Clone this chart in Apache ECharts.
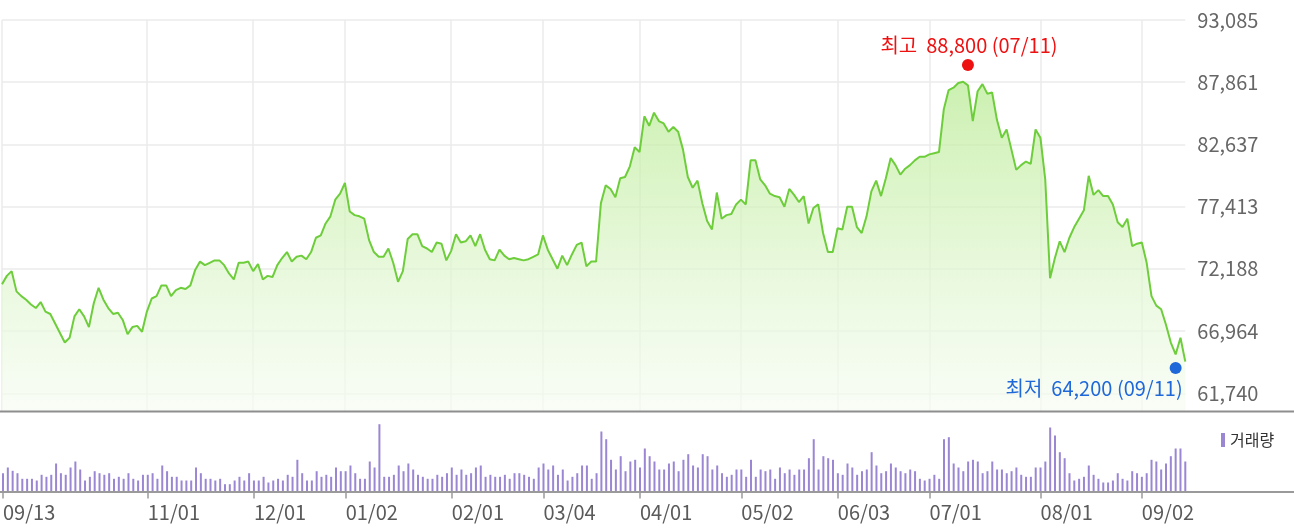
<!DOCTYPE html>
<html>
<head>
<meta charset="utf-8">
<script src="https://cdn.jsdelivr.net/npm/echarts@6/dist/echarts.min.js"></script>
<style>
  html, body { margin: 0; padding: 0; background: #fff; }
  #main { width: 1294px; height: 531px; }
</style>
</head>
<body>
<div id="main"></div>
<script>
// ---- Data ----
const tradingDays = {
  '2023-09': [13,14,15,18,19,20,21,22,25,26,27],
  '2023-10': [4,5,6,10,11,12,13,16,17,18,19,20,23,24,25,26,27,30,31],
  '2023-11': [1,2,3,6,7,8,9,10,13,14,15,16,17,20,21,22,23,24,27,28,29,30],
  '2023-12': [1,4,5,6,7,8,11,12,13,14,15,18,19,20,21,22,26,27,28],
  '2024-01': [2,3,4,5,8,9,10,11,12,15,16,17,18,19,22,23,24,25,26,29,30,31],
  '2024-02': [1,2,5,6,7,8,13,14,15,16,19,20,21,22,23,26,27,28,29],
  '2024-03': [4,5,6,7,8,11,12,13,14,15,18,19,20,21,22,25,26,27,28,29],
  '2024-04': [1,2,3,4,5,8,9,11,12,15,16,17,18,19,22,23,24,25,26,29,30],
  '2024-05': [2,3,7,8,9,10,13,14,16,17,20,21,22,23,24,27,28,29,30,31],
  '2024-06': [3,4,5,7,10,11,12,13,14,17,18,19,20,21,24,25,26,27,28],
  '2024-07': [1,2,3,4,5,8,9,10,11,12,15,16,17,18,19,22,23,24,25,26,29,30,31],
  '2024-08': [1,2,5,6,7,8,9,12,13,14,16,19,20,21,22,23,26,27,28,29,30],
  '2024-09': [2,3,4,5,6,9,10,11,12,13]
};

const closePrices = [
  70900,71600,72000,70300,69900,69600,69200,68900,69400,68600,
  68400,67600,66800,66000,66400,68200,68800,68200,67300,69300,
  70600,69600,68900,68400,68500,67900,66700,67300,67400,66900,
  68600,69700,69900,70800,70800,69900,70400,70600,70500,70800,
  72100,72800,72500,72700,72900,72900,72500,71800,71300,72700,
  72700,72800,72000,72600,71300,71600,71500,72500,73100,73600,
  72800,73200,73300,73000,73600,74800,75000,76000,76600,78000,
  78500,79400,77000,76700,76600,76400,74600,73600,73200,73200,
  73900,72700,71100,72000,74700,75100,75100,74100,73900,73600,
  74400,74300,72900,73700,75100,74400,74500,75000,74100,75100,
  73800,73000,72900,73800,73300,73000,73100,73000,72900,73000,
  73200,73400,75000,73800,73000,72200,73300,72500,73400,74200,
  74400,72400,72800,72800,77700,79200,78900,78200,79800,79900,
  80800,82400,82000,85000,84200,85300,84600,84400,83700,84100,
  83700,82200,79900,79000,79600,77700,76200,75500,78600,76400,
  76700,76800,77600,78000,77600,81300,81300,79700,79200,78500,
  78300,78200,77400,78900,78400,77800,78300,76000,77300,77600,
  75200,73600,73600,75600,75500,77400,77400,75700,75200,76600,
  78700,79600,78300,79800,81500,80900,80100,80600,80900,81300,
  81600,81600,81800,81900,82000,85600,87200,87400,87800,87900,
  87600,84600,87100,87700,86900,87000,84700,83200,83900,82200,
  80500,80900,81200,81000,83900,83200,79700,71400,73100,74500,
  73600,74800,75700,76400,77100,80000,78400,78800,78300,78300,
  77600,76100,75700,76400,74100,74300,74400,72700,69900,69100,
  68800,67500,66000,65000,66400,64400
];

// trading volume (relative units)
const volumes = [
  18.3,24,20.7,18.3,12.7,12.7,12.7,11,16.7,14.7,
  16.7,28,18.3,16.7,24,30,22,11,14.7,20.3,
  18.3,16.7,18.3,12.7,14.7,12.7,18.3,12.7,11,16.7,
  16.7,18.3,12.7,26,20.3,14.7,14.7,11,11,11,
  24,18.3,12.7,12.7,11,12.7,7.3,7.3,11,14.7,
  11,18.3,11,11,14.7,9,11,12.7,11,16.7,
  14.7,31.7,18.3,11,11,20.3,14.7,16.7,14.7,24,
  20.3,20.3,26,18.3,12.7,12.7,30,24,67.3,14.7,
  14.7,16.7,26,20.3,28,22,16.7,14.7,12.7,12.7,
  16.7,14.7,18.3,24,16.7,22,16.7,18.3,24,26,
  14.7,16.7,14.7,14.7,16.7,12.7,18.3,18.3,16.7,14.7,
  12.7,24,28,22,26,16.7,22,11,14.7,18.3,
  26,26,12.7,18.3,60,52.3,31.7,22,35.3,20.3,
  30,31.7,24,43,35.3,30,22,22,28,30,
  20.3,31.7,37.3,26,24,37.3,35.3,22,26,18.3,
  14.7,16.7,22,22,14.7,31.7,14.7,22,20.3,22,
  12.7,24,18.3,22,16.7,22,22,33.3,52.3,22,
  35.3,33.3,31.7,18.3,16.7,28,24,16.7,20.3,22,
  39.3,26,18.3,20.3,28,24,20.3,18.3,22,20.3,
  12.7,11,12.7,16.7,12.7,52.3,54.3,28,24,20.3,
  30,31.7,30,18.3,20.3,30,22,22,18.3,20.3,
  24,16.7,14.7,14.7,24,24,30,64,56,39.3,
  33.3,18.3,11,12.7,14.7,26,16.7,12.7,9,9,
  11,18.3,12.7,11,20.3,18.3,14.7,18.3,31.7,30,
  22,28,35.3,43,43,30
];

const tickDates = ['2023-09-13','2023-11-01','2023-12-01','2024-01-02','2024-02-01','2024-03-04',
                   '2024-04-01','2024-05-02','2024-06-03','2024-07-01','2024-08-01','2024-09-02'];
const priceTicks = [61740, 66964, 72188, 77413, 82637, 87861, 93085];
const extremeNames = ['최고', '최저'];
const extremeDates = ['2024-07-11', '2024-09-11'];
const extremeValues = [88800, 64200];

// ---- Build ----
const dates = Object.entries(tradingDays).flatMap(([ym, days]) =>
  days.map(d => ym + '-' + String(d).padStart(2, '0')));
const tickSet = new Set(tickDates);
const isTick = (i, v) => tickSet.has(v);
const fmtNum = v => Math.round(v).toLocaleString('en-US');
const fmtMD = s => s.slice(5, 7) + '/' + s.slice(8, 10);
const extremeLabel = i => extremeNames[i] + '  ' + fmtNum(extremeValues[i]) + ' (' + fmtMD(extremeDates[i]) + ')';

const FONT = '"Noto Sans CJK KR", "Noto Sans", sans-serif';
const chart = echarts.init(document.getElementById('main'));

const option = {
  animation: false,
  backgroundColor: '#ffffff',
  textStyle: { fontFamily: FONT },
  grid: [
    { left: 2, right: 108.7, top: 20, bottom: 120 },
    { left: 2, right: 108.7, top: 420, bottom: 39.5 }
  ],
  legend: {
    data: ['거래량'],
    left: 1216, top: 427,
    icon: 'rect', itemWidth: 4, itemHeight: 14,
    selectedMode: false,
    textStyle: { fontSize: 16, color: '#333', fontFamily: FONT }
  },
  xAxis: [
    {
      type: 'category', gridIndex: 0, data: dates, boundaryGap: false,
      axisLine: { show: false }, axisTick: { show: false }, axisLabel: { show: false },
      splitLine: { show: true, interval: isTick, lineStyle: { color: '#ebebeb', width: 1.5 } }
    },
    {
      type: 'category', gridIndex: 1, data: dates, boundaryGap: false,
      axisLine: { show: false },
      axisTick: { show: true, interval: isTick, length: 7, lineStyle: { color: '#9a9a9a', width: 1.5 } },
      axisLabel: { interval: isTick, formatter: fmtMD, align: 'left', margin: 11,
                   fontSize: 20, color: '#5a5a5a', fontFamily: FONT },
      splitLine: { show: false }
    }
  ],
  yAxis: [
    {
      type: 'value', gridIndex: 0, position: 'right', min: 60254, max: 93085,
      axisLine: { show: false },
      axisTick: { show: false, customValues: priceTicks },
      axisLabel: { customValues: priceTicks, formatter: fmtNum, align: 'left', margin: 12,
                   fontSize: 20, color: '#666', fontFamily: FONT },
      splitLine: { show: true, lineStyle: { color: '#ebebeb', width: 1.5 } }
    },
    { type: 'value', gridIndex: 1, min: 0, max: 71.5, show: false, splitLine: { show: false } }
  ],
  graphic: [
    { type: 'line', z: 100, shape: { x1: 0, y1: 411.5, x2: 1294, y2: 411.5 }, style: { stroke: '#8e8e8e', lineWidth: 2 } },
    { type: 'line', z: 100, shape: { x1: 0, y1: 492, x2: 1294, y2: 492 }, style: { stroke: '#9a9a9a', lineWidth: 2 } }
  ],
  series: [
    {
      type: 'line', name: '종가', xAxisIndex: 0, yAxisIndex: 0, data: closePrices,
      showSymbol: false, silent: true,
      lineStyle: { color: '#6dcd3b', width: 2 },
      areaStyle: {
        origin: 'start',
        color: new echarts.graphic.LinearGradient(0, 20, 0, 411, [
          { offset: 0, color: '#a6e57a' },
          { offset: 0.35, color: '#c8efaa' },
          { offset: 0.7, color: '#e3f7d5' },
          { offset: 1, color: '#f7fcf3' }
        ], true)
      },
      markPoint: {
        silent: true,
        data: [
          {
            coord: [extremeDates[0], extremeValues[0]], symbol: 'circle', symbolSize: 12,
            symbolOffset: [0, -6], itemStyle: { color: '#ee1111' },
            label: { show: true, formatter: extremeLabel(0), position: [7, -14], align: 'center',
                     verticalAlign: 'middle', color: '#ee1111', fontSize: 20, fontFamily: FONT }
          },
          {
            coord: [extremeDates[1], extremeValues[1]], symbol: 'circle', symbolSize: 12,
            symbolOffset: [0, 4], itemStyle: { color: '#1f68d9' },
            label: { show: true, formatter: extremeLabel(1), position: [13, 26], align: 'right',
                     verticalAlign: 'middle', color: '#1f68d9', fontSize: 20, fontFamily: FONT }
          }
        ]
      }
    },
    {
      type: 'bar', name: '거래량', xAxisIndex: 1, yAxisIndex: 1, data: volumes,
      barWidth: 2, silent: true, itemStyle: { color: '#9a86d3' }
    }
  ]
};
chart.setOption(option);
</script>
</body>
</html>
